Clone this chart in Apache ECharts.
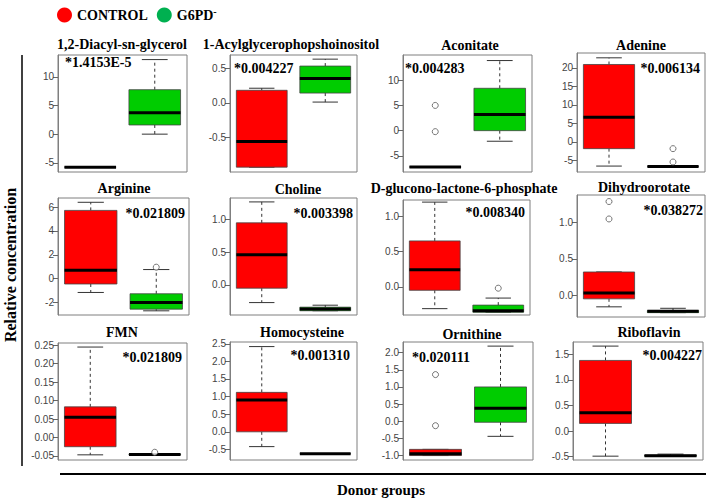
<!DOCTYPE html>
<html>
<head>
<meta charset="utf-8">
<script src="https://cdn.jsdelivr.net/npm/echarts@6/dist/echarts.min.js"></script>
<style>html,body{margin:0;padding:0;background:#fff}#c{width:708px;height:499px}</style>
</head>
<body>
<div id="c"></div>
<script>
// ---------- data ----------
const groups = ['CONTROL', 'G6PD-'];
const titles = ['1,2-Diacyl-sn-glycerol', '1-Acylglycerophopshoinositol', 'Aconitate', 'Adenine',
  'Arginine', 'Choline', 'D-glucono-lactone-6-phosphate', 'Dihydroorotate',
  'FMN', 'Homocysteine', 'Ornithine', 'Riboflavin'];
const pValues = ['*1.4153E-5', '*0.004227', '*0.004283', '*0.006134',
  '*0.021809', '*0.003398', '*0.008340', '*0.038272',
  '*0.021809', '*0.001310', '*0.020111', '*0.004227'];
// [lower whisker, Q1, median, Q3, upper whisker]
const controlStats = [
  [-5.76, -5.76, -5.76, -5.76, -5.76],
  [-0.93, -0.93, -0.56, 0.18, 0.21],
  [-7.2, -7.2, -7.2, -7.2, -7.2],
  [-6.5, -1.8, 6.7, 20.9, 22.7],
  [-1.16, -0.45, 0.7, 5.72, 6.4],
  [-0.27, -0.05, 0.46, 0.95, 1.27],
  [-0.31, -0.05, 0.24, 0.65, 1.2],
  [-0.16, -0.05, 0.03, 0.32, 0.32],
  [-0.047, -0.025, 0.055, 0.083, 0.245],
  [-0.42, 0.0, 0.9, 1.12, 2.42],
  [-1.0, -1.0, -0.95, -0.82, -0.82],
  [-0.49, 0.15, 0.36, 1.38, 1.66]
];
const g6pdStats = [
  [0.0, 1.6, 3.75, 7.75, 13.0],
  [0.01, 0.14, 0.35, 0.53, 0.63],
  [-2.1, 0.0, 3.2, 8.4, 13.9],
  [-6.6, -6.6, -6.6, -6.6, -6.6],
  [-2.7, -2.56, -2.0, -1.27, 0.76],
  [-0.395, -0.395, -0.37, -0.34, -0.31],
  [-0.36, -0.36, -0.34, -0.26, -0.16],
  [-0.24, -0.24, -0.22, -0.21, -0.18],
  [-0.047, -0.047, -0.046, -0.045, -0.045],
  [-0.62, -0.62, -0.62, -0.62, -0.62],
  [-0.44, -0.03, 0.38, 1.0, 2.19],
  [-0.49, -0.49, -0.48, -0.47, -0.45]
];
const controlOutliers = [[], [], [5.0, -0.2], [], [], [], [], [1.29, 1.05], [], [], [1.36, -0.13], []];
const g6pdOutliers = [[], [], [], [-1.8, -5.4], [0.96], [], [-0.02], [], [-0.04], [], [], []];
const yMins = [-6.6, -1.0, -8.2, -8.1, -3.05, -0.46, -0.40, -0.30, -0.061, -0.8, -1.13, -0.565];
const yMaxs = [13.8, 0.69, 15.0, 24.0, 6.76, 1.33, 1.23, 1.38, 0.256, 2.55, 2.31, 1.74];
const yTicks = [
  [-5, 0, 5, 10],
  [-0.5, 0, 0.5],
  [-5, 0, 5, 10],
  [-5, 0, 5, 10, 15, 20],
  [-2, 0, 2, 4, 6],
  [0, 0.5, 1.0],
  [0, 0.5, 1.0],
  [0, 0.5, 1.0],
  [-0.05, 0, 0.05, 0.10, 0.15, 0.20, 0.25],
  [-0.5, 0, 0.5, 1.0, 1.5, 2.0, 2.5],
  [-1.0, -0.5, 0, 0.5, 1.0, 1.5, 2.0],
  [-0.5, 0, 0.5, 1.0, 1.5]
];
const tickDecimals = [0, 1, 0, 0, 0, 1, 1, 1, 2, 1, 1, 1];

// ---------- layout ----------
const gridRects = [
  [58, 55, 129, 117], [230, 55, 127, 117], [403, 55, 129, 117], [577, 53, 128, 119],
  [58, 198, 131, 117], [230, 198, 127, 117], [403, 200, 127, 115], [577, 195, 128, 122],
  [58, 343, 129, 117], [230, 342, 127, 118], [403, 342, 130, 118], [573, 342, 130, 118]
];
const titlePos = [[122, 44], [291, 44], [470, 45], [641, 45],
  [124, 188], [298, 189], [464, 188], [644, 187],
  [122, 332], [302, 332], [472, 334], [649, 332]];
// [x, y, align]
const pPos = [[65, 62, 'left'], [234, 68, 'left'], [405, 68, 'left'], [700, 68, 'right'],
  [185, 213, 'right'], [353, 213, 'right'], [525, 212, 'right'], [703, 210, 'right'],
  [182, 357, 'right'], [350, 355, 'right'], [412, 357, 'left'], [702, 355, 'right']];

const RED = '#ff0000', GREEN = '#00cc00';
const SERIF = '"Liberation Serif", "Times New Roman", serif';
const SANS = '"Liberation Sans", Arial, sans-serif';

function renderBox(params, api) {
  const c = api.value(0);
  const pts = [1, 2, 3, 4, 5].map(i => api.coord([c, api.value(i)]));
  const x = pts[0][0];
  const bw = api.size([1, 0])[0] * 0.8;
  const yMin = pts[0][1], yQ1 = pts[1][1], yMed = pts[2][1], yQ3 = pts[3][1], yMax = pts[4][1];
  const cap = bw * 0.25;
  const color = api.visual('color');
  const ch = [];
  const dash = { stroke: '#333', lineWidth: 1, lineDash: [3, 3], fill: null };
  const solid = { stroke: '#333', lineWidth: 1, fill: null };
  if (yQ3 - yMax > 0.5) ch.push({ type: 'line', shape: { x1: x, y1: yQ3, x2: x, y2: yMax }, style: dash });
  if (yMin - yQ1 > 0.5) ch.push({ type: 'line', shape: { x1: x, y1: yQ1, x2: x, y2: yMin }, style: dash });
  ch.push({ type: 'line', shape: { x1: x - cap, y1: yMax, x2: x + cap, y2: yMax }, style: solid });
  ch.push({ type: 'line', shape: { x1: x - cap, y1: yMin, x2: x + cap, y2: yMin }, style: solid });
  ch.push({ type: 'rect', shape: { x: x - bw / 2, y: yQ3, width: bw, height: yQ1 - yQ3 },
    style: { fill: color, stroke: '#444', lineWidth: 0.8 } });
  ch.push({ type: 'line', shape: { x1: x - bw / 2, y1: yMed, x2: x + bw / 2, y2: yMed },
    style: { stroke: '#000', lineWidth: 3 } });
  return { type: 'group', children: ch };
}

const grid = [], xAxis = [], yAxis = [], series = [], graphic = [];
titles.forEach((t, i) => {
  const r = gridRects[i];
  grid.push({ left: r[0], top: r[1], width: r[2], height: r[3], show: true,
    borderColor: '#7f7f7f', borderWidth: 1, backgroundColor: 'transparent' });
  xAxis.push({ type: 'category', gridIndex: i, data: groups, boundaryGap: true,
    axisLine: { show: false }, axisTick: { show: false }, axisLabel: { show: false }, splitLine: { show: false } });
  const dec = tickDecimals[i];
  yAxis.push({ type: 'value', gridIndex: i, min: yMins[i], max: yMaxs[i],
    axisLine: { show: true, lineStyle: { color: '#7f7f7f' } },
    axisTick: { show: true, length: 5, lineStyle: { color: '#666' }, customValues: yTicks[i] },
    axisLabel: { show: true, customValues: yTicks[i], margin: 4, fontSize: 10, color: '#444', fontFamily: SANS,
      formatter: v => Number(v).toFixed(dec) },
    splitLine: { show: false } });
  series.push({ type: 'custom', name: 'CONTROL', xAxisIndex: i, yAxisIndex: i,
    itemStyle: { color: RED }, renderItem: renderBox, clip: false,
    encode: { x: 0, y: [1, 2, 3, 4, 5] }, data: [[0].concat(controlStats[i])] });
  series.push({ type: 'custom', name: 'G6PD-', xAxisIndex: i, yAxisIndex: i,
    itemStyle: { color: GREEN }, renderItem: renderBox, clip: false,
    encode: { x: 0, y: [1, 2, 3, 4, 5] }, data: [[1].concat(g6pdStats[i])] });
  const outs = controlOutliers[i].map(v => [0, v]).concat(g6pdOutliers[i].map(v => [1, v]));
  if (outs.length) {
    series.push({ type: 'scatter', name: 'outliers', xAxisIndex: i, yAxisIndex: i,
      symbol: 'circle', symbolSize: 6, silent: true,
      itemStyle: { color: '#fff', borderColor: '#555', borderWidth: 1 }, data: outs });
  }
  graphic.push({ type: 'text', x: titlePos[i][0], y: titlePos[i][1],
    style: { text: t, fontFamily: SERIF, fontWeight: 'bold', fontSize: 14, fill: '#000',
      align: 'center', verticalAlign: 'middle' } });
  graphic.push({ type: 'text', x: pPos[i][0], y: pPos[i][1],
    style: { text: pValues[i], fontFamily: SERIF, fontWeight: 'bold', fontSize: 14, fill: '#000',
      align: pPos[i][2], verticalAlign: 'middle' } });
});

graphic.push({ type: 'line', shape: { x1: 22, y1: 55, x2: 22, y2: 466 }, style: { stroke: '#000', lineWidth: 1.5 } });
graphic.push({ type: 'line', shape: { x1: 60, y1: 474, x2: 706, y2: 474 }, style: { stroke: '#000', lineWidth: 2 } });
graphic.push({ type: 'text', x: 10, y: 265, rotation: Math.PI / 2,
  style: { text: 'Relative concentration', fontFamily: SERIF, fontWeight: 'bold', fontSize: 16, fill: '#000',
    align: 'center', verticalAlign: 'middle' } });
graphic.push({ type: 'text', x: 381, y: 490,
  style: { text: 'Donor groups', fontFamily: SERIF, fontWeight: 'bold', fontSize: 15, fill: '#000',
    align: 'center', verticalAlign: 'middle' } });

const chart = echarts.init(document.getElementById('c'), null, { renderer: 'svg' });
chart.setOption({
  animation: false,
  backgroundColor: '#fff',
  legend: {
    left: 52, top: 1, itemWidth: 15, itemHeight: 15, itemGap: 9, selectedMode: false,
    data: [
      { name: 'CONTROL', icon: 'circle', itemStyle: { color: '#ff0000' } },
      { name: 'G6PD-', icon: 'circle', itemStyle: { color: '#00b050' } }
    ],
    formatter: n => n === 'G6PD-' ? 'G6PD{sup|-}' : n,
    textStyle: { fontFamily: SERIF, fontWeight: 'bold', fontSize: 14, color: '#000',
      rich: { sup: { fontFamily: SERIF, fontWeight: 'bold', fontSize: 10, color: '#000', padding: [0, 0, 8, 0] } } }
  },
  grid, xAxis, yAxis, series, graphic
});
</script>
</body>
</html>
